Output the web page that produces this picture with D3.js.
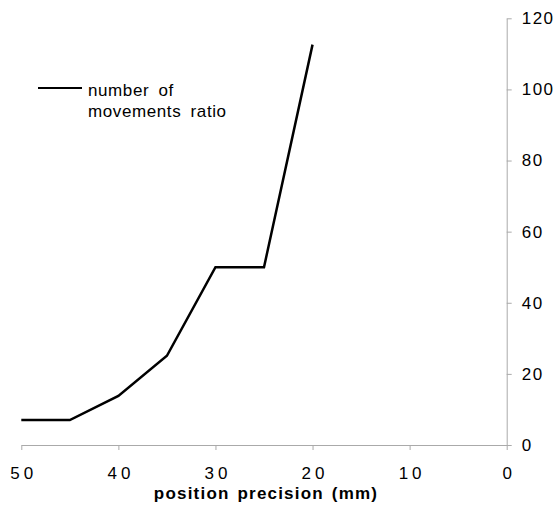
<!DOCTYPE html>
<html>
<head>
<meta charset="utf-8">
<script src="https://cdn.jsdelivr.net/npm/d3@7"></script>
<style>
  body { margin: 0; background: #fff; }
  svg text { font-family: "Liberation Sans", Arial, sans-serif; fill: #000; }
  .axis path, .axis line { stroke: #aaa; }
  .axis text { font-size: 17px; }
  .x.axis text { letter-spacing: 4px; }
  .y.axis text { letter-spacing: 1.5px; }
</style>
</head>
<body>
<svg id="chart" width="559" height="508"></svg>
<script>
  // position precision (mm) and the ratio
  var precision = [50, 45, 40, 35, 30, 25, 20];
  var ratio = [7, 7, 13.8, 25.1, 50, 50, 112.6];
  var xTicks = [50, 40, 30, 20, 10, 0];
  var yTicks = [0, 20, 40, 60, 80, 100, 120];

  ( function() {
    var svg = d3.select("#chart");
    var plotLeft = 21.3, plotRight = 506.7, plotTop = 18.3, plotBottom = 445;

    var x = d3.scaleLinear().domain([50, 0]).range([plotLeft, plotRight]);
    var y = d3.scaleLinear().domain([0, 120]).range([plotBottom, plotTop]);

    var xAxis = svg.append("g")
      .attr("class", "x axis")
      .attr("transform", "translate(0," + plotBottom + ")")
      .call(d3.axisBottom(x).tickValues(xTicks).tickSize(5).tickSizeOuter(0).tickPadding(17));
    // letter-spacing adds a trailing gap, shift back to keep labels centred
    xAxis.selectAll("text").attr("dx", "2px");

    svg.append("g")
      .attr("class", "y axis")
      .attr("transform", "translate(" + plotRight + ",0)")
      .call(d3.axisRight(y).tickValues(yTicks).tickSize(5).tickSizeOuter(0).tickPadding(10));

    svg.append("text")
      .attr("x", 266)
      .attr("y", 499)
      .attr("text-anchor", "middle")
      .style("font-size", "17px")
      .style("font-weight", "bold")
      .style("letter-spacing", "1.2px")
      .style("word-spacing", "2px")
      .text("position precision (mm)");

    var line = d3.line()
      .x(function(d, i) { return x(precision[i]); })
      .y(function(d) { return y(d); });

    svg.append("path")
      .datum(ratio)
      .attr("fill", "none")
      .attr("stroke", "#000")
      .attr("stroke-width", 2.5)
      .attr("d", line);

    // legend
    var legend = svg.append("g").attr("transform", "translate(38,88)");
    legend.append("line")
      .attr("x1", 0).attr("x2", 44).attr("y1", 0).attr("y2", 0)
      .attr("stroke", "#000").attr("stroke-width", 2);
    legend.append("text")
      .attr("x", 50).attr("y", 7.5)
      .style("font-size", "17px").style("letter-spacing", "0.6px").style("word-spacing", "4px")
      .text("number of");
    legend.append("text")
      .attr("x", 50).attr("y", 29)
      .style("font-size", "17px").style("letter-spacing", "0.6px").style("word-spacing", "4px")
      .text("movements ratio");
  } )();
</script>
</body>
</html>
